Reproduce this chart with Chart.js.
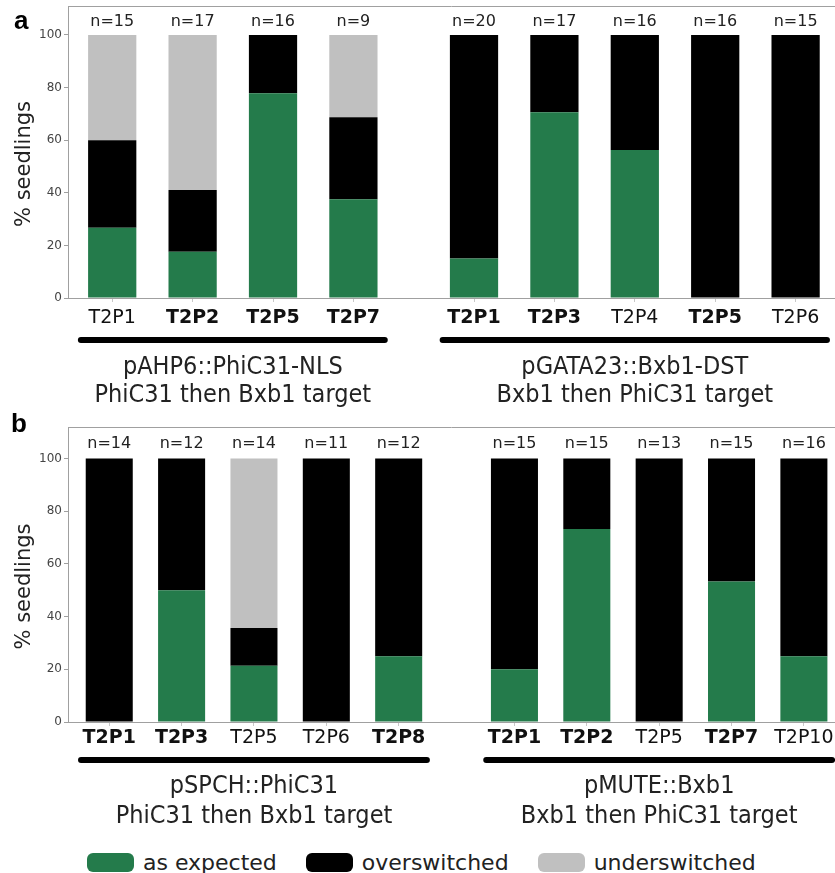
<!DOCTYPE html>
<html>
<head>
<meta charset="utf-8">
<script src="https://cdn.jsdelivr.net/npm/chart.js@4.4.1/dist/chart.umd.min.js"></script>
<style>
  body { margin: 0; background: #fff; width: 835px; height: 873px; position: relative; overflow: hidden; font-family: "DejaVu Sans"; }
  .wrap { position: absolute; left: 0; width: 835px; }
  #wrapA { top: 0; height: 410px; }
  #wrapB { top: 410px; height: 420px; }
  .letter { position: absolute; font: bold 26px "Liberation Sans"; line-height: 26px; color: #000; }
  #legend { position: absolute; left: 87px; top: 850px; display: flex; gap: 29px; align-items: center; font-size: 22px; color: #222; }
  .item { display: flex; align-items: center; gap: 9px; }
  .sw { width: 47px; height: 19px; border-radius: 6px; }
</style>
</head>
<body>
<div class="wrap" id="wrapA"><canvas id="chartA"></canvas></div>
<div class="wrap" id="wrapB"><canvas id="chartB"></canvas></div>
<div class="letter" style="left:14px;top:7px">a</div>
<div class="letter" style="left:11px;top:410px">b</div>
<div id="legend"></div>

<script>
// --- data ---
const STATUS = ['as expected', 'overswitched', 'underswitched'];
const COLORS = ['#247b4b', '#000000', '#c0c0c0'];
const yTicks = [0, 20, 40, 60, 80, 100];

// panel a
const posA = [0, 1, 2, 3, 4.5, 5.5, 6.5, 7.5, 8.5];
const linesA = ['T2P1', 'T2P2', 'T2P5', 'T2P7', 'T2P1', 'T2P3', 'T2P4', 'T2P5', 'T2P6'];
const boldA = [false, true, true, true, true, true, false, true, false];
const nA = [15, 17, 16, 9, 20, 17, 16, 16, 15];
const expectedA = [26.7, 17.6, 77.8, 37.5, 15.0, 70.6, 56.3, 0, 0];
const overA = [33.3, 23.5, 22.2, 31.25, 85.0, 29.4, 43.7, 100, 100];
const underA = [40.0, 58.9, 0, 31.25, 0, 0, 0, 0, 0];
const groupsA = [[0, 3], [4, 8]];
const titlesA = [['pAHP6::PhiC31-NLS', 'PhiC31 then Bxb1 target'],
                 ['pGATA23::Bxb1-DST', 'Bxb1 then PhiC31 target']];

// panel b
const posB = [0, 1, 2, 3, 4, 5.6, 6.6, 7.6, 8.6, 9.6];
const linesB = ['T2P1', 'T2P3', 'T2P5', 'T2P6', 'T2P8', 'T2P1', 'T2P2', 'T2P5', 'T2P7', 'T2P10'];
const boldB = [true, true, false, false, true, true, true, false, true, false];
const nB = [14, 12, 14, 11, 12, 15, 15, 13, 15, 16];
const expectedB = [0, 50.0, 21.4, 0, 25.0, 20.0, 73.3, 0, 53.3, 25.0];
const overB = [100, 50.0, 14.3, 100, 75.0, 80.0, 26.7, 100, 46.7, 75.0];
const underB = [0, 0, 64.3, 0, 0, 0, 0, 0, 0, 0];
const groupsB = [[0, 4], [5, 9]];
const titlesB = [['pSPCH::PhiC31', 'PhiC31 then Bxb1 target'],
                 ['pMUTE::Bxb1', 'Bxb1 then PhiC31 target']];

Chart.defaults.font.family = '"DejaVu Sans"';

// n=, underlines, group names, y title
const decorPlugin = {
    id: 'decor',
    afterDraw(chart, args, o) {
        const { ctx, chartArea: ca, scales: { x, y } } = chart;
        ctx.save();
        ctx.strokeStyle = '#a0a0a0';
        ctx.lineWidth = 1;
        ctx.beginPath();
        ctx.moveTo(ca.left, ca.top + 0.5);
        ctx.lineTo(ca.right, ca.top + 0.5);
        ctx.stroke();

        ctx.fillStyle = '#222';
        ctx.textAlign = 'center';
        ctx.textBaseline = 'middle';
        ctx.font = '16px "DejaVu Sans"';
        o.pos.forEach((p, i) => {
            ctx.fillText('n=' + o.n[i], x.getPixelForValue(p), y.getPixelForValue(100) - o.nGap);
        });

        // y title
        ctx.save();
        ctx.translate(25, (ca.top + ca.bottom) / 2 + 12);
        ctx.rotate(-Math.PI / 2);
        ctx.font = '21px "DejaVu Sans"';
        ctx.fillText('% seedlings', 0, 0);
        ctx.restore();

        // groups
        o.groups.forEach((g, gi) => {
            const x0 = x.getPixelForValue(o.pos[g[0]] - 0.39);
            const x1 = x.getPixelForValue(o.pos[g[1]] + 0.39);
            ctx.strokeStyle = '#000';
            ctx.lineWidth = 6;
            ctx.lineCap = 'round';
            ctx.beginPath();
            ctx.moveTo(x0, ca.bottom + o.lineGap);
            ctx.lineTo(x1, ca.bottom + o.lineGap);
            ctx.stroke();
            const cx = (x.getPixelForValue(o.pos[g[0]]) + x.getPixelForValue(o.pos[g[1]])) / 2;
            ctx.font = '25px "DejaVu Sans Condensed"';
            ctx.fillStyle = '#222';
            ctx.fillText(o.titles[gi][0], cx, ca.bottom + o.t1);
            ctx.fillText(o.titles[gi][1], cx, ca.bottom + o.t2);
        });
        ctx.restore();
    }
};

function makeChart(id, p) {
    const vals = [p.expected, p.over, p.under];
    return new Chart(document.getElementById(id), {
        type: 'bar',
        data: {
            datasets: STATUS.map((s, k) => ({
                label: s,
                data: p.pos.map((x, i) => ({ x: x, y: vals[k][i] })),
                backgroundColor: COLORS[k],
                borderWidth: 0,
                barPercentage: p.barPct,
                categoryPercentage: 1
            }))
        },
        options: {
            responsive: true,
            maintainAspectRatio: false,
            animation: false,
            layout: { padding: { top: p.padTop, left: 0, right: 0, bottom: 0 } },
            plugins: {
                legend: { display: false },
                tooltip: { enabled: false },
                decor: { pos: p.pos, n: p.n, nGap: p.nGap, groups: p.groups, titles: p.titles,
                         lineGap: p.lineGap, t1: p.t1, t2: p.t2 }
            },
            scales: {
                x: {
                    type: 'linear', stacked: true, offset: false,
                    min: p.xMin, max: p.xMax,
                    afterBuildTicks: s => { s.ticks = p.pos.map(v => ({ value: v })); },
                    afterFit: s => { s.height = p.xH; s.paddingLeft = 0; s.paddingRight = 0; },
                    border: { color: '#a0a0a0' },
                    grid: { drawOnChartArea: false, tickLength: 4, color: '#c8c8c8', offset: false },
                    ticks: {
                        autoSkip: false, maxRotation: 0, padding: p.labelPad, color: '#111',
                        callback: (v, i) => p.lines[i],
                        font: c => ({ family: '"DejaVu Sans"', size: 19, weight: p.bold[c.index] ? 'bold' : 'normal' })
                    }
                },
                y: {
                    stacked: true, min: 0, max: p.yMax,
                    afterBuildTicks: s => { s.ticks = yTicks.map(v => ({ value: v })); },
                    afterFit: s => { s.width = 68; s.paddingTop = 0; s.paddingBottom = 0; },
                    border: { color: '#a0a0a0' },
                    grid: { drawOnChartArea: false, tickLength: 4, color: '#a0a0a0' },
                    ticks: { padding: 2, color: '#444', font: { size: 12 } }
                }
            }
        },
        plugins: [decorPlugin]
    });
}

makeChart('chartA', {
    pos: posA, lines: linesA, bold: boldA, n: nA,
    expected: expectedA, over: overA, under: underA,
    groups: groupsA, titles: titlesA,
    xMin: -0.55, xMax: 8.99, yMax: 111, padTop: 6, xH: 112, barPct: 0.6,
    nGap: 13, labelPad: 5, lineGap: 42, t1: 69, t2: 97
});

makeChart('chartB', {
    pos: posB, lines: linesB, bold: boldB, n: nB,
    expected: expectedB, over: overB, under: underB,
    groups: groupsB, titles: titlesB,
    xMin: -0.57, xMax: 10.03, yMax: 112, padTop: 17, xH: 108, barPct: 0.65,
    nGap: 15, labelPad: 1, lineGap: 38, t1: 64, t2: 94
});

// legend
const legend = document.getElementById('legend');
STATUS.forEach((s, k) => {
    const item = document.createElement('div');
    item.className = 'item';
    item.innerHTML = '<div class="sw" style="background:' + COLORS[k] + '"></div><span>' + s + '</span>';
    legend.appendChild(item);
});
</script>
</body>
</html>
